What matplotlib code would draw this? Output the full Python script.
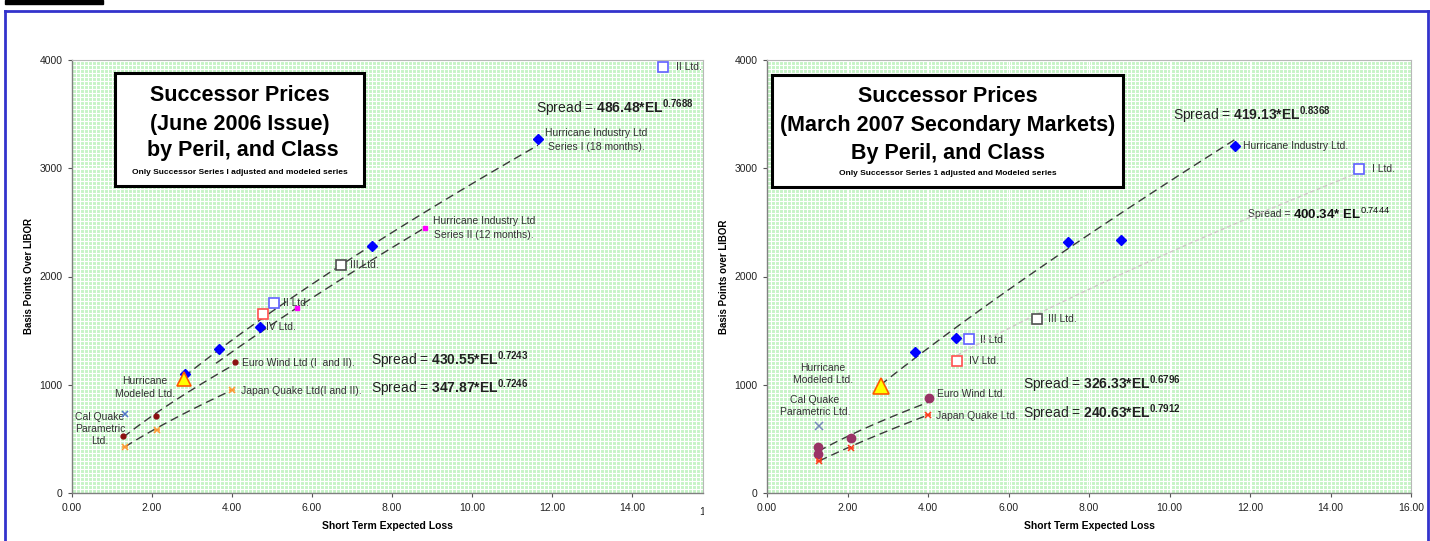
import numpy as np
import matplotlib
matplotlib.use("Agg")
import matplotlib.pyplot as plt
from matplotlib.patches import Rectangle
from matplotlib.lines import Line2D
from matplotlib.transforms import Bbox, TransformedBbox

plt.rcParams['font.family'] = ['Liberation Sans', 'DejaVu Sans']
plt.rcParams['mathtext.fontset'] = 'custom'
plt.rcParams['mathtext.rm'] = 'Liberation Sans'
plt.rcParams['mathtext.bf'] = 'Liberation Sans:bold'

#%% data - June 2006 issue (left)
L_hi1_el = [2.83, 3.68, 4.70, 7.50, 11.65]
L_hi1_bp = [1100, 1330, 1535, 2280, 3270]
L_hi2_el = [5.63, 8.825]
L_hi2_bp = [1712, 2451]
L_ew_el = [1.28, 2.09, 4.075]
L_ew_bp = [529, 711, 1207]
L_jq_el = [1.325, 2.12, 3.99]
L_jq_bp = [428, 582, 951]
L_hm_el, L_hm_bp = [2.80], [1053]
L_cq_el, L_cq_bp = [1.33], [727]
L_ltd_names = ["II Ltd.", "II Ltd.", "IV Ltd.", "III Ltd."]
L_ltd_el = [14.78, 5.06, 4.78, 6.73]
L_ltd_bp = [3933, 1752, 1653, 2106]
# trendlines (a * EL^b)
L_fit_hi1 = (486.48, 0.7688)
L_fit_ew = (430.55, 0.7243)
L_fit_jq = (347.87, 0.7246)
L_hi2_line_start = 3.6

#%% data - March 2007 secondary markets (right)
R_hi_el = [3.67, 4.69, 7.47, 8.80, 11.63]
R_hi_bp = [1300, 1430, 2320, 2340, 3210]
R_ew_el = [1.275, 1.275, 2.08, 4.03]
R_ew_bp = [428, 360, 505, 875]
R_jq_el = [1.30, 2.09, 3.99]
R_jq_bp = [296, 413, 720]
R_hm_el, R_hm_bp = [2.82], [991]
R_cq_el, R_cq_bp = [1.30], [622]
R_ltd_names = ["I Ltd.", "II Ltd.", "III Ltd.", "IV Ltd."]
R_ltd_el = [14.72, 5.03, 6.71, 4.73]
R_ltd_bp = [2990, 1423, 1607, 1222]
R_fit_hi = (419.13, 0.8368)
R_fit_ltd = (400.34, 0.7444)
R_fit_ew = (326.33, 0.6796)
R_fit_jq = (240.63, 0.7912)

xticks = [0, 2, 4, 6, 8, 10, 12, 14, 16]
yticks = [0, 1000, 2000, 3000, 4000]

W, H = 1430, 541
fig = plt.figure(figsize=(W / 100, H / 100), dpi=100)

DASH = (0, (6, 3.5))
DASHCOL = '#3a3a3a'
CELL = 4  # background pattern cell, pixels


def trend(ax, fit, x0, x1, **kw):
    x = np.linspace(x0, x1, 60)
    ax.plot(x, fit[0] * x ** fit[1], zorder=3, **kw)


def setup(ax, xmax, wpx, hpx, ylab):
    ax.set_facecolor('#c6f4c6')
    ax.set_xlim(0, xmax)
    ax.set_ylim(0, 4000)
    ax.set_xticks([t for t in xticks if t <= xmax])
    ax.set_xticklabels(['%.2f' % t for t in xticks if t <= xmax])
    ax.set_yticks(yticks)
    ax.set_xticks(np.arange(0, xmax, xmax * CELL / wpx), minor=True)
    ax.set_yticks(np.arange(0, 4000, 4000 * CELL / hpx), minor=True)
    ax.grid(which='both', color='white', lw=0.8)
    ax.set_axisbelow(True)
    ax.tick_params(which='minor', length=0)
    ax.tick_params(which='major', direction='out', length=3, width=0.8,
                   color='#555555', labelsize=7.5, labelcolor='#222222', pad=4)
    for s in ['left', 'bottom']:
        ax.spines[s].set_color('#808080')
        ax.spines[s].set_linewidth(1.0)
    for s in ['top', 'right']:
        ax.spines[s].set_color('#b8b8b8')
        ax.spines[s].set_linewidth(0.8)
    ax.set_xlabel('Short Term Expected Loss', fontsize=7.5, fontweight='bold', labelpad=6)
    ax.set_ylabel(ylab, fontsize=7, fontweight='bold', labelpad=4)


def ltd_markers(ax, el, bp, cols):
    for x, y, c in zip(el, bp, cols):
        ax.plot([x], [y], 's', ms=6.5, mfc='white', mec=c, mew=1.2, zorder=4)


def jq_markers(ax, el, bp, c):
    ax.plot(el, bp, 'x', ms=5, color=c, mew=1.1, zorder=4, ls='none')
    ax.plot(el, bp, '_', ms=5, color=c, mew=1.1, zorder=4, ls='none')


def title_box(ax, rect, cx, ys, lines, sub):
    ax.add_patch(Rectangle(rect[:2], rect[2], rect[3], transform=ax.transAxes,
                           fc='white', ec='black', lw=2.2, zorder=5))
    for y, t in zip(ys[:3], lines):
        ax.text(cx, y, t, transform=ax.transAxes, ha='center', va='center',
                fontsize=15.5, fontweight='bold', zorder=6)
    ax.text(cx, ys[3], sub, transform=ax.transAxes, ha='center', va='center',
            fontsize=6, fontweight='bold', zorder=6)


txt = dict(fontsize=7.5, color='#333333', zorder=2)
spr = dict(fontsize=10, color='#222222', va='center', zorder=2)

#%% left panel
wL, hL = 703 - 72, 493 - 60
xmaxL = wL / 40.0
axL = fig.add_axes([72 / W, 1 - 493 / H, wL / W, hL / H])
setup(axL, xmaxL, wL, hL, 'Basis Points Over LIBOR')

trend(axL, L_fit_hi1, L_hi1_el[0] - 0.03, L_hi1_el[-1], color=DASHCOL, lw=1, ls=DASH)
trend(axL, L_fit_ew, L_ew_el[0], L_ew_el[-1], color=DASHCOL, lw=1, ls=DASH)
trend(axL, L_fit_jq, L_jq_el[0], L_jq_el[-1], color=DASHCOL, lw=1, ls=DASH)
b2, a2 = np.polyfit(np.log(L_hi2_el), np.log(L_hi2_bp), 1)
trend(axL, (np.exp(a2), b2), L_hi2_line_start, L_hi2_el[-1], color=DASHCOL, lw=1, ls=DASH)

axL.plot(L_hi1_el, L_hi1_bp, 'D', ms=5, color='#0000ff', zorder=4)
axL.plot(L_hi2_el, L_hi2_bp, 's', ms=3.5, color='#ff00ff', zorder=4)
axL.plot(L_ew_el, L_ew_bp, 'o', ms=3.5, color='#8b1010', zorder=4)
jq_markers(axL, L_jq_el, L_jq_bp, '#ff9933')
axL.plot(L_hm_el, L_hm_bp, '^', ms=10, mfc='#ffff00', mec='#ff5a00', mew=1.2, zorder=4)
axL.plot(L_cq_el, L_cq_bp, 'x', ms=5, color='#5577cc', mew=1.1, zorder=4)
ltd_markers(axL, L_ltd_el, L_ltd_bp, ['#6060ff', '#6060ff', '#ff5050', '#505050'])

axL.text(15.1, 3935, 'II Ltd.', va='center', **txt)
axL.text(5.28, 1755, 'II Ltd.', va='center', **txt)
axL.text(4.85, 1533, 'IV Ltd.', va='center', **txt)
axL.text(6.95, 2106, 'III Ltd.', va='center', **txt)
axL.text(13.1, 3261, 'Hurricane Industry Ltd\nSeries I (18 months).', ha='center',
         va='center', linespacing=1.45, **txt)
axL.text(10.3, 2448, 'Hurricane Industry Ltd\nSeries II (12 months).', ha='center',
         va='center', linespacing=1.45, **txt)
axL.text(4.25, 1201, 'Euro Wind Ltd (I  and II).', va='center', **txt)
axL.text(4.22, 942, 'Japan Quake Ltd(I and II).', va='center', **txt)
axL.text(1.83, 975, 'Hurricane\nModeled Ltd.', ha='center', va='center', linespacing=1.3, **txt)
axL.text(0.7, 591, 'Cal Quake\nParametric\nLtd.', ha='center', va='center', linespacing=1.3, **txt)

axL.text(11.6, 3557, r'Spread = $\mathbf{486.48{*}EL}^{\mathbf{0.7688}}$', **spr)
axL.text(7.48, 1229, r'Spread = $\mathbf{430.55{*}EL}^{\mathbf{0.7243}}$', **spr)
axL.text(7.48, 970, r'Spread = $\mathbf{347.87{*}EL}^{\mathbf{0.7246}}$', **spr)

title_box(axL, (0.068, 0.709, 0.395, 0.261), 0.2655, [0.919, 0.850, 0.792, 0.741],
          ['Successor Prices', '(June 2006 Issue)', ' by Peril, and Class'],
          'Only Successor Series I adjusted and modeled series')

# cropped "16.00" tick label at the right edge
t16 = axL.text(16, -0.033, '16.00', transform=axL.get_xaxis_transform(), ha='center',
               va='top', fontsize=7.5, color='#222222')
t16.set_clip_box(TransformedBbox(Bbox.from_extents(0, 0, 704 / W, 1), fig.transFigure))
t16.set_clip_on(True)

#%% right panel
wR, hR = 1411 - 767, 493 - 60
axR = fig.add_axes([767 / W, 1 - 493 / H, wR / W, hR / H])
setup(axR, 16, wR, hR, 'Basis Points over LIBOR')

trend(axR, R_fit_hi, R_hm_el[0], R_hi_el[-1], color=DASHCOL, lw=1, ls=DASH)
trend(axR, R_fit_ltd, R_ltd_el[3], R_ltd_el[0], color='#d2c6ca', lw=1, ls=(0, (3, 2)))
trend(axR, R_fit_ew, R_ew_el[0], R_ew_el[-1], color=DASHCOL, lw=1, ls=DASH)
trend(axR, R_fit_jq, R_jq_el[0], R_jq_el[-1], color=DASHCOL, lw=1, ls=DASH)

axR.plot(R_hi_el, R_hi_bp, 'D', ms=5, color='#0000ff', zorder=4)
axR.plot(R_ew_el, R_ew_bp, 'o', ms=6, color='#993366', zorder=4)
jq_markers(axR, R_jq_el, R_jq_bp, '#ff3a1a')
axR.plot(R_hm_el, R_hm_bp, '^', ms=11, mfc='#ffff00', mec='#ff5a00', mew=1.2, zorder=4)
axR.plot(R_cq_el, R_cq_bp, 'x', ms=6, color='#7788bb', mew=1.1, zorder=4)
ltd_markers(axR, R_ltd_el, R_ltd_bp, ['#6060ff', '#6060ff', '#505050', '#ff5050'])

axR.text(15.03, 2993, 'I Ltd.', va='center', **txt)
axR.text(5.29, 1413, 'II Ltd.', va='center', **txt)
axR.text(6.98, 1607, 'III Ltd.', va='center', **txt)
axR.text(5.02, 1219, 'IV Ltd.', va='center', **txt)
axR.text(11.83, 3206, 'Hurricane Industry Ltd.', va='center', **txt)
axR.text(4.22, 915, 'Euro Wind Ltd.', va='center', **txt)
axR.text(4.20, 711, 'Japan Quake Ltd.', va='center', **txt)
axR.text(1.39, 1099, 'Hurricane\nModeled Ltd.', ha='center', va='center', linespacing=1.3, **txt)
axR.text(1.19, 804, 'Cal Quake\nParametric Ltd.', ha='center', va='center', linespacing=1.3, **txt)

axR.text(10.09, 3492, r'Spread = $\mathbf{419.13{*}EL}^{\mathbf{0.8368}}$', **spr)
axR.text(6.36, 1007, r'Spread = $\mathbf{326.33{*}EL}^{\mathbf{0.6796}}$', **spr)
axR.text(6.36, 739, r'Spread = $\mathbf{240.63{*}EL}^{\mathbf{0.7912}}$', **spr)
axR.text(11.95, 2577, 'Spread =', fontsize=7.5, color='#333333', va='center', zorder=2)
axR.text(13.06, 2577, r'$\mathbf{400.34{*}\ EL}^{0.7444}$', fontsize=9.5, color='#111111',
         va='center', zorder=2)

title_box(axR, (0.0078, 0.7067, 0.545, 0.2587), 0.2803, [0.915, 0.8476, 0.7845, 0.738],
          ['Successor Prices', '(March 2007 Secondary Markets)', 'By Peril, and Class'],
          'Only Successor Series 1 adjusted and Modeled series')

#%% page frame
fig.add_artist(Rectangle((5 / W, 1 - 4 / H), 98 / W, 4 / H, transform=fig.transFigure,
                         color='black'))
fig.add_artist(Line2D([5 / W, 1428 / W], [1 - 11 / H] * 2, color='#3333cc', lw=2))
fig.add_artist(Line2D([5 / W] * 2, [0, 1 - 11 / H], color='#3333cc', lw=2))
fig.add_artist(Line2D([1428 / W] * 2, [0, 1 - 11 / H], color='#3333cc', lw=2))

fig.savefig('out.png', dpi=100)
plt.close()
